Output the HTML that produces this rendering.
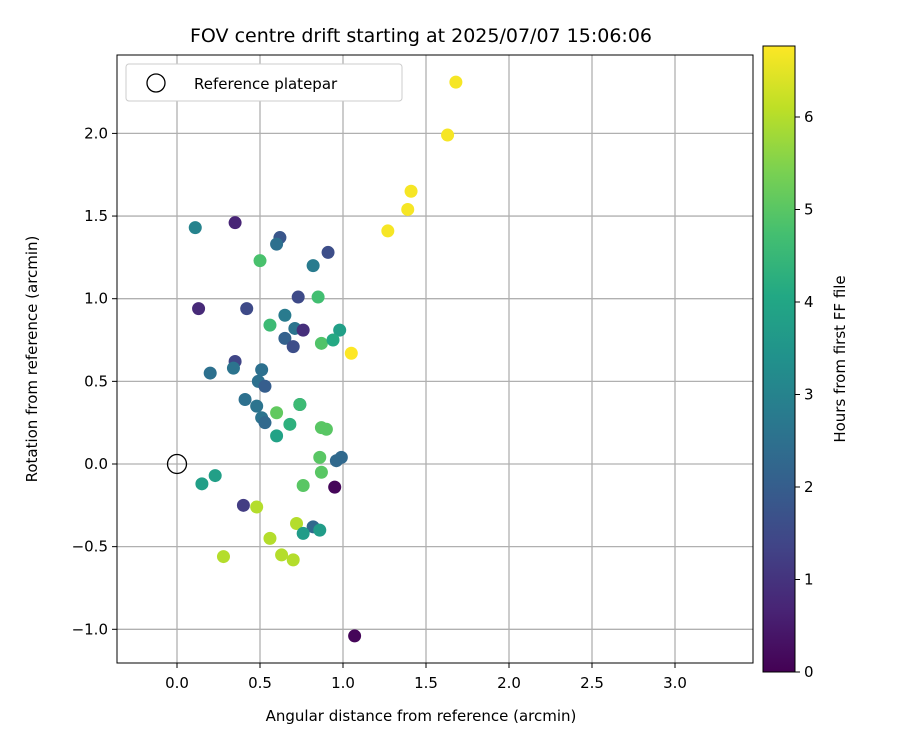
<!DOCTYPE html>
<html><head><meta charset="utf-8"><style>
body{margin:0;background:#fff;font-family:"Liberation Sans","DejaVu Sans",sans-serif}
svg text{font-family:"DejaVu Sans","Liberation Sans",sans-serif}
</style></head><body>
<svg id="chart" width="900" height="750" xmlns="http://www.w3.org/2000/svg">
<defs><linearGradient id="vir" x1="0" y1="1" x2="0" y2="0"></linearGradient></defs>
<text x="421" y="42" font-size="19" text-anchor="middle">FOV centre drift starting at 2025/07/07 15:06:06</text>
<g id="grid"></g><g id="pts"></g>
<rect x="117" y="55" width="636" height="608" fill="none" stroke="#000" stroke-width="1"/>
<g id="ticks"></g>
<text x="421" y="721" font-size="15" text-anchor="middle">Angular distance from reference (arcmin)</text>
<text transform="translate(37,359) rotate(-90)" font-size="15" text-anchor="middle">Rotation from reference (arcmin)</text>
<g>
<rect x="126" y="64" width="276" height="37" rx="3" fill="#fff" stroke="#ccc"/>
<circle cx="156" cy="83" r="9" fill="none" stroke="#000" stroke-width="1.3"/>
<text x="194" y="89" font-size="15">Reference platepar</text></g>
<rect x="763" y="46" width="32" height="626" fill="url(#vir)" stroke="#000" stroke-width="1"/>
<g id="cticks"></g>
<text transform="translate(845,359) rotate(-90)" font-size="15" text-anchor="middle">Hours from first FF file</text>
</svg>
<script>
const xs=[0.11,0.35,0.62,0.60,0.50,0.91,0.82,0.85,0.73,0.13,0.42,0.56,0.65,0.71,0.76,0.98,0.65,0.70,0.87,0.94,1.05,0.35,0.34,0.20,0.51,0.49,0.53,0.41,0.48,0.74,0.74,0.51,0.53,0.60,0.68,0.60,0.87,0.90,0.86,0.96,0.99,0.87,0.95,0.76,0.15,0.23,0.40,0.48,0.72,0.82,0.76,0.86,0.56,0.28,0.63,0.70,1.07,1.68,1.63,1.41,1.39,1.27];
const ys=[1.43,1.46,1.37,1.33,1.23,1.28,1.20,1.01,1.01,0.94,0.94,0.84,0.90,0.82,0.81,0.81,0.76,0.71,0.73,0.75,0.67,0.62,0.58,0.55,0.57,0.50,0.47,0.39,0.35,0.36,0.36,0.28,0.25,0.31,0.24,0.17,0.22,0.21,0.04,0.02,0.04,-0.05,-0.14,-0.13,-0.12,-0.07,-0.25,-0.26,-0.36,-0.38,-0.42,-0.40,-0.45,-0.56,-0.55,-0.58,-1.04,2.31,1.99,1.65,1.54,1.41];
const hours=[3.0,0.7,1.8,2.5,4.8,1.6,2.8,4.7,1.5,0.8,1.5,4.6,2.8,2.6,0.9,3.8,2.1,1.6,4.9,4.1,6.8,1.4,2.6,2.5,2.5,2.5,2.0,2.5,2.6,2.2,4.6,2.6,2.3,5.1,4.3,3.9,5.0,5.0,5.0,2.3,2.3,5.0,0.1,5.0,3.8,3.8,1.2,6.0,6.0,2.3,3.7,3.7,6.0,6.0,6.0,6.0,0.1,6.7,6.7,6.7,6.7,6.7];
const xTicks=[0,0.5,1,1.5,2,2.5,3],yTicks=[-1,-0.5,0,0.5,1,1.5,2],cTicks=[0,1,2,3,4,5,6];
const X=v=>177+v*166, Y=v=>464-v*165.3, C=v=>672-v*92.5, HMAX=6.77;
const NS="http://www.w3.org/2000/svg";
const vir=[[68,1,84],[72,36,117],[65,68,135],[53,95,141],[42,120,142],[33,145,140],[34,168,132],[68,191,112],[122,209,81],[189,223,38],[253,231,37]];
const g=document.getElementById('vir');
vir.forEach((c,i)=>{const s=document.createElementNS(NS,'stop');s.setAttribute('offset',i/(vir.length-1));s.setAttribute('stop-color',`rgb(${c})`);g.appendChild(s);});
function col(h){let t=Math.max(0,Math.min(1,h/HMAX))*(vir.length-1);let i=Math.min(vir.length-2,Math.floor(t)),f=t-i;const c=vir[i].map((a,k)=>Math.round(a+(vir[i+1][k]-a)*f));return`rgb(${c})`;}
function mk(tag,at,par){const e=document.createElementNS(NS,tag);for(const k in at)e.setAttribute(k,at[k]);document.getElementById(par).appendChild(e);return e;}
const fmt=v=>v.toFixed(1).replace('-','\u2212');
xTicks.forEach(v=>{const l=mk('line',{x1:X(v),x2:X(v),y1:55,y2:663,stroke:'#b0b0b0','stroke-width':1.3},'grid');

mk('line',{x1:X(v),x2:X(v),y1:663,y2:668,stroke:'#000'},'ticks');
const t=mk('text',{x:X(v),y:688,'font-size':15,'text-anchor':'middle'},'ticks');t.textContent=fmt(v);
});
yTicks.forEach(v=>{const l=mk('line',{x1:117,x2:753,y1:Y(v),y2:Y(v),stroke:'#b0b0b0','stroke-width':1.3},'grid');

mk('line',{x1:112,x2:117,y1:Y(v),y2:Y(v),stroke:'#000'},'ticks');
const t=mk('text',{x:108,y:Y(v)+5,'font-size':15,'text-anchor':'end'},'ticks');t.textContent=fmt(v);
});
cTicks.forEach(v=>{mk('line',{x1:795,x2:800,y1:C(v),y2:C(v),stroke:'#000'},'cticks');
const t=mk('text',{x:804,y:C(v)+5,'font-size':15},'cticks');t.textContent=v;
});
xs.forEach((x,i)=>{const c=mk('circle',{cx:X(x),cy:Y(ys[i]),r:6.5,fill:col(hours[i])},'pts');

});
const r=mk('circle',{cx:X(0),cy:Y(0),r:9.5,fill:'none',stroke:'#000','stroke-width':1.3},'pts');


</script>
</body></html>
